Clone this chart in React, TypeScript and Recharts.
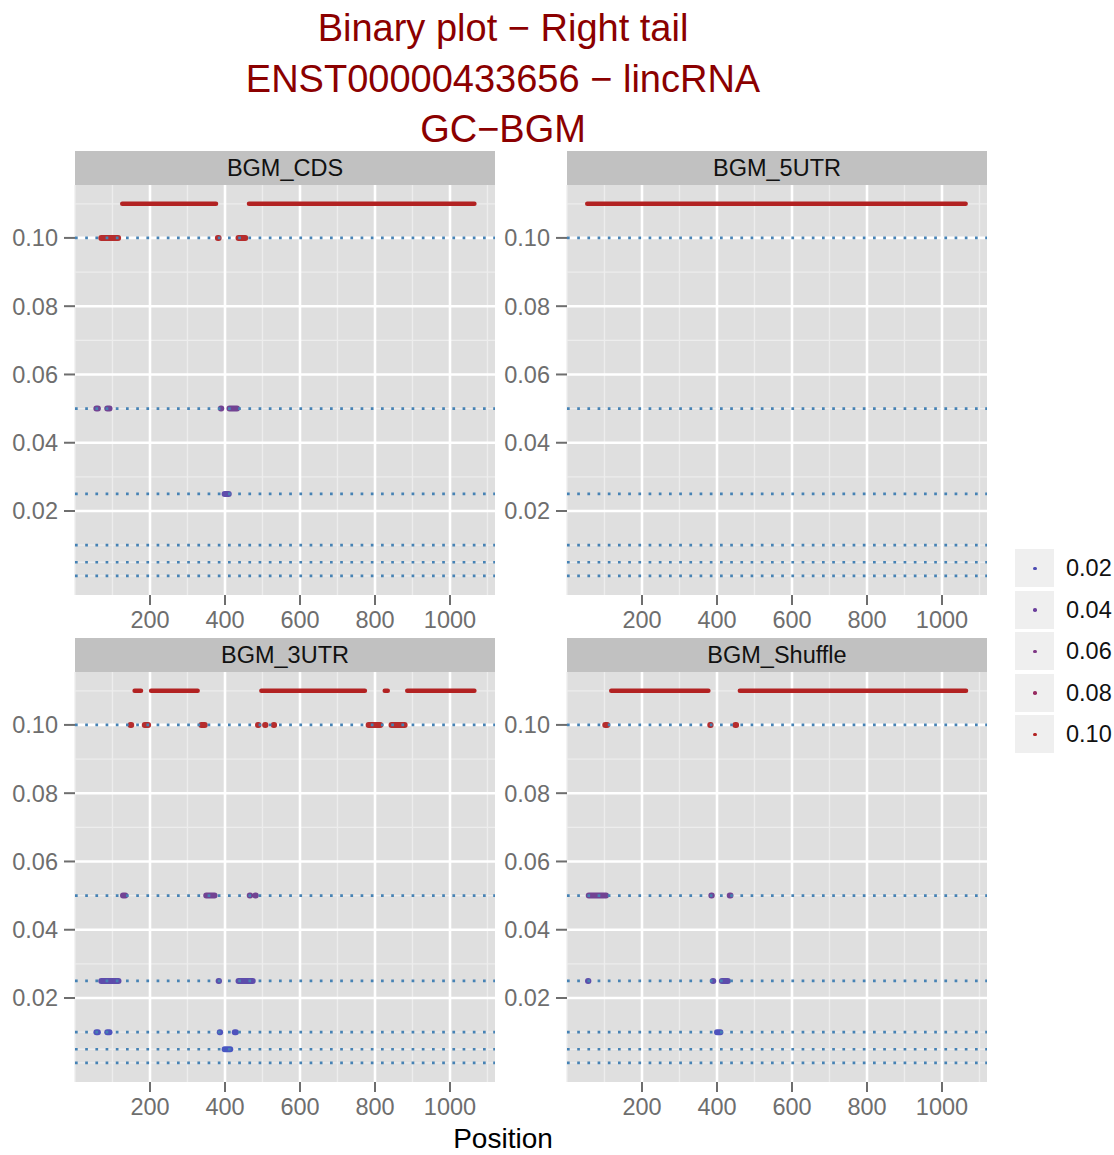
import { ComposedChart, Line, XAxis, YAxis, ReferenceLine } from 'recharts';

// x positions along the transcript, y = p-value level
const xTicks = [200, 400, 600, 800, 1000];
const xMinor = [0, 100, 300, 500, 700, 900, 1100];
const yTicks = [0.02, 0.04, 0.06, 0.08, 0.1];
const yMinor = [0.001, 0.005, 0.01, 0.03, 0.05, 0.07, 0.09, 0.11];
const cutoffs = [0.1, 0.05, 0.025, 0.01, 0.005, 0.001];
const legendLevels = [0.02, 0.04, 0.06, 0.08, 0.1];
const legendColors = ['#4C4BB2', '#6B3F9C', '#7E3684', '#972B60', '#B22222'];

const BAND_LEVEL = 0.11;

// red stretches on top: [from, to]
const cdsBands = [[126, 376], [464, 1065]];
const utr5Bands = [[54, 1063]];
const utr3Bands = [[159, 176], [203, 327], [497, 773], [826, 834], [886, 1065]];
const shuffleBands = [[118, 377], [461, 1064]];

// significant windows: [level, from, to]
const cdsHits = [
  [0.1, 70, 115], [0.1, 381, 383], [0.1, 436, 454],
  [0.05, 57, 61], [0.05, 86, 92], [0.05, 389, 390], [0.05, 412, 432],
  [0.025, 399, 410],
];
const utr5Hits: number[][] = [];
const utr3Hits = [
  [0.1, 148, 150], [0.1, 186, 195], [0.1, 337, 346], [0.1, 488, 489],
  [0.1, 507, 508], [0.1, 530, 531], [0.1, 783, 814], [0.1, 844, 879],
  [0.05, 128, 134], [0.05, 350, 372], [0.05, 466, 467], [0.05, 481, 482],
  [0.025, 70, 116], [0.025, 383, 384], [0.025, 436, 474],
  [0.01, 57, 61], [0.01, 86, 92], [0.01, 386, 387], [0.01, 426, 429],
  [0.005, 399, 414],
];
const shuffleHits = [
  [0.1, 102, 107], [0.1, 382, 383], [0.1, 449, 451],
  [0.05, 58, 104], [0.05, 385, 386], [0.05, 434, 436],
  [0.025, 56, 57], [0.025, 389, 390], [0.025, 413, 429],
  [0.01, 400, 409],
];

const hitColors: Record<string, string> = {
  '0.1': '#B22222',
  '0.05': '#6C3A8E',
  '0.025': '#5643A8',
  '0.01': '#474ABA',
  '0.005': '#3F4FC0',
};

const FONT = '"Liberation Sans", Arial, Helvetica, sans-serif';
const PW = 420;
const PH = 410;
const YW = 75;
const Y_DOMAIN = [-0.0046, 0.1155];

function Panel({ left, top, name, bands, hits }: any) {
  return (
    <>
      <div
        style={{
          position: 'absolute', left: left + YW, top: top - 34, width: PW, height: 34,
          background: '#C1C1C1', color: '#111', fontSize: 23.5, lineHeight: '34px', textAlign: 'center',
        }}
      >
        {name}
      </div>
      <div style={{ position: 'absolute', left: left + YW, top, width: PW, height: PH, background: '#DFDFDF' }} />
      <div style={{ position: 'absolute', left, top }}>
        <ComposedChart width={YW + PW} height={PH + 50} margin={{ top: 0, right: 0, bottom: 0, left: 0 }}>
          <XAxis
            type="number"
            dataKey="x"
            domain={[0, 1120]}
            ticks={xTicks}
            allowDataOverflow
            axisLine={false}
            tickSize={10}
            tickMargin={6}
            height={50}
            tickLine={{ stroke: '#6E6E6E', strokeWidth: 2 }}
            tick={{ fill: '#6E6E6E', fontSize: 23.5, fontFamily: FONT }}
          />
          <YAxis
            type="number"
            dataKey="y"
            domain={Y_DOMAIN}
            ticks={yTicks}
            allowDataOverflow
            width={YW}
            axisLine={false}
            tickSize={11}
            tickMargin={6}
            tickFormatter={(v: number) => v.toFixed(2)}
            tickLine={{ stroke: '#6E6E6E', strokeWidth: 2 }}
            tick={{ fill: '#6E6E6E', fontSize: 23.5, fontFamily: FONT }}
          />
          {xMinor.map((v) => (
            <ReferenceLine key={'xm' + v} x={v} stroke="#EDEDED" strokeWidth={1.3} />
          ))}
          {yMinor.map((v) => (
            <ReferenceLine key={'ym' + v} y={v} stroke="#EDEDED" strokeWidth={1.3} />
          ))}
          {xTicks.map((v) => (
            <ReferenceLine key={'xM' + v} x={v} stroke="#FFFFFF" strokeWidth={2.6} />
          ))}
          {yTicks.map((v) => (
            <ReferenceLine key={'yM' + v} y={v} stroke="#FFFFFF" strokeWidth={2.6} />
          ))}
          {bands.map((b: number[], i: number) => (
            <Line
              key={'band' + i}
              data={[{ x: b[0], y: BAND_LEVEL }, { x: b[1], y: BAND_LEVEL }]}
              dataKey="y"
              stroke="#B22222"
              strokeWidth={4.5}
              strokeLinecap="round"
              dot={false}
              activeDot={false}
              isAnimationActive={false}
            />
          ))}
          {hits.map((h: number[], i: number) => (
            <Line
              key={'hit' + i}
              data={[{ x: h[1], y: h[0] }, { x: h[2], y: h[0] }]}
              dataKey="y"
              stroke={hitColors[String(h[0])]}
              strokeOpacity={0.95}
              strokeWidth={6}
              strokeLinecap="round"
              dot={false}
              activeDot={false}
              isAnimationActive={false}
            />
          ))}
          {cutoffs.map((v) => (
            <ReferenceLine key={'cut' + v} y={v} stroke="#4682B4" strokeWidth={2.7} strokeDasharray="2.7 7.5" />
          ))}
        </ComposedChart>
      </div>
    </>
  );
}

export default function App() {
  const titleLines = ['Binary plot \u2212 Right tail', 'ENST00000433656 \u2212 lincRNA', 'GC\u2212BGM'];
  return (
    <div style={{ position: 'absolute', left: 0, top: 0, width: 1114, height: 1155, background: '#fff', fontFamily: FONT }}>
      {titleLines.map((t, i) => (
        <div
          key={t}
          style={{
            position: 'absolute', left: 0, width: 1006, top: 28 + i * 50.5 - 25, height: 50,
            lineHeight: '50px', textAlign: 'center', fontSize: 38, color: '#8B0000',
          }}
        >
          {t}
        </div>
      ))}
      <Panel left={0} top={185} name="BGM_CDS" bands={cdsBands} hits={cdsHits} />
      <Panel left={492} top={185} name="BGM_5UTR" bands={utr5Bands} hits={utr5Hits} />
      <Panel left={0} top={672} name="BGM_3UTR" bands={utr3Bands} hits={utr3Hits} />
      <Panel left={492} top={672} name="BGM_Shuffle" bands={shuffleBands} hits={shuffleHits} />
      <div
        style={{
          position: 'absolute', left: 0, width: 1006, top: 1123, height: 32, lineHeight: '32px',
          textAlign: 'center', fontSize: 28, color: '#000',
        }}
      >
        Position
      </div>
      {legendLevels.map((lv, i) => (
        <div key={lv} style={{ position: 'absolute', left: 1015, top: 549 + i * 41.6 }}>
          <div style={{ position: 'absolute', left: 0, top: 0, width: 39, height: 38, background: '#EFEFEF' }}>
            <div
              style={{
                position: 'absolute', left: 18, top: 17.5, width: 3.5, height: 3.5, borderRadius: '50%',
                background: legendColors[i],
              }}
            />
          </div>
          <div style={{ position: 'absolute', left: 51, top: 0, height: 38, lineHeight: '38px', fontSize: 23.5, color: '#111' }}>
            {lv.toFixed(2)}
          </div>
        </div>
      ))}
    </div>
  );
}
